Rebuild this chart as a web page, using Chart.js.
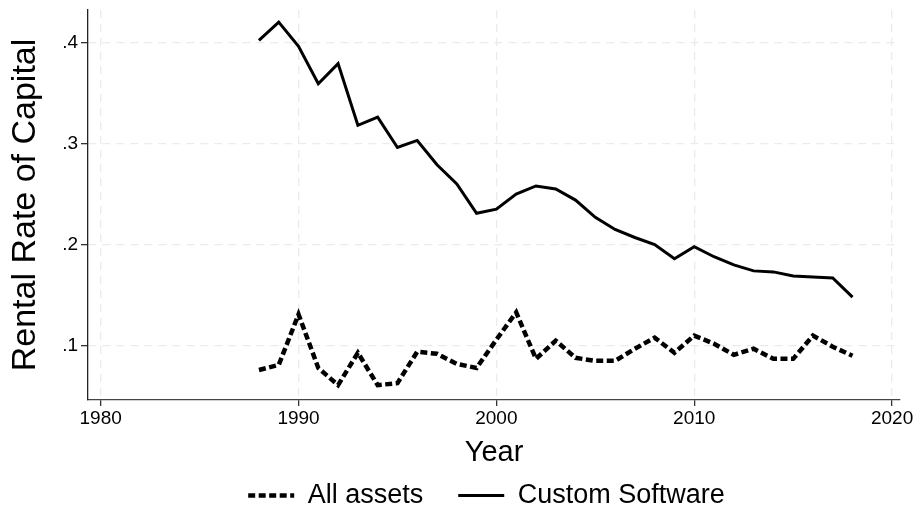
<!DOCTYPE html>
<html lang="en">
<head>
  <meta charset="UTF-8">
  <title>Rental Rate of Capital</title>
  <style>
    html, body {
      margin: 0;
      padding: 0;
      background: #fff;
    }
    #chartWrapper {
      position: relative;
      width: 917px;
      height: 519px;
    }
  </style>
</head>
<body>
  <div id="chartWrapper">
    <canvas id="rentalChart"></canvas>
  </div>

  <script src="https://cdn.jsdelivr.net/npm/chart.js/dist/chart.umd.min.js"></script>
  <script>
    // years 1988..2018
    const years = [
      1988, 1989, 1990, 1991, 1992, 1993, 1994, 1995, 1996, 1997, 1998,
      1999, 2000, 2001, 2002, 2003, 2004, 2005, 2006, 2007, 2008, 2009,
      2010, 2011, 2012, 2013, 2014, 2015, 2016, 2017, 2018
    ];
    const allAssets = [
      0.076, 0.081, 0.131, 0.078, 0.061, 0.093, 0.061, 0.063, 0.094, 0.092, 0.082,
      0.078, 0.106, 0.133, 0.087, 0.105, 0.088, 0.085, 0.085, 0.097, 0.108, 0.093,
      0.110, 0.102, 0.091, 0.097, 0.087, 0.087, 0.110, 0.099, 0.090
    ];
    const customSoftware = [
      0.402, 0.420, 0.396, 0.359, 0.379, 0.318, 0.326, 0.296, 0.303, 0.279, 0.260,
      0.231, 0.235, 0.250, 0.258, 0.255, 0.244, 0.227, 0.215, 0.207, 0.200, 0.186,
      0.198, 0.188, 0.180, 0.174, 0.173, 0.169, 0.168, 0.167, 0.148
    ];
    const xTicks = [1980, 1990, 2000, 2010, 2020];
    const yTicks = [0.1, 0.2, 0.3, 0.4];

    const FONT = '"Liberation Sans", Arial, Helvetica, sans-serif';
    const LEGEND_PAD = 12;   // vertical padding used when the legend is fitted
    const LEGEND_GAP = 35;   // horizontal gap between the two legend entries

    const toPoints = vals => vals.map((v, i) => ({ x: years[i], y: v }));

    // wider gap between entries than the fitted padding, and a small shift right
    const legendSpacing = {
      id: 'legendSpacing',
      afterLayout(chart) {
        const lg = chart.legend;
        lg.options.labels.padding = LEGEND_GAP;
        lg.top -= LEGEND_GAP - LEGEND_PAD;
        lg.left += 11;
        lg.right += 11;
      }
    };

    const ctx = document.getElementById('rentalChart').getContext('2d');
    new Chart(ctx, {
      type: 'line',
      data: {
        datasets: [
          {
            label: 'All assets',
            data: toPoints(allAssets),
            borderColor: '#000',
            borderWidth: 4.5,
            borderDash: [7, 3.5],
            borderCapStyle: 'butt',
            pointRadius: 0,
            tension: 0,
            fill: false
          },
          {
            label: 'Custom Software',
            data: toPoints(customSoftware),
            borderColor: '#000',
            borderWidth: 3,
            pointRadius: 0,
            tension: 0,
            fill: false
          }
        ]
      },
      plugins: [legendSpacing],
      options: {
        responsive: true,
        maintainAspectRatio: false,
        animation: false,
        layout: { padding: { left: 5, right: 17, top: 10, bottom: 0 } },
        plugins: {
          tooltip: { enabled: false },
          legend: {
            position: 'bottom',
            labels: {
              usePointStyle: true,
              pointStyle: 'line',
              pointStyleWidth: 46,
              boxHeight: 20,
              padding: LEGEND_PAD,
              color: '#000',
              font: { family: FONT, size: 27 },
              generateLabels: chart =>
                Chart.defaults.plugins.legend.labels.generateLabels(chart).map(item => ({
                  ...item,
                  lineDash: chart.data.datasets[item.datasetIndex].borderDash || []
                }))
            }
          }
        },
        scales: {
          x: {
            type: 'linear',
            min: 1979.36,
            max: 2020.4,
            afterFit: s => {
              s.height = 70;
              s.paddingLeft = 0;
              s.paddingRight = 0;
            },
            afterBuildTicks: s => { s.ticks = xTicks.map(v => ({ value: v })); },
            ticks: {
              color: '#000',
              padding: 1,
              maxRotation: 0,
              font: { family: FONT, size: 19 },
              callback: v => String(v)
            },
            grid: {
              color: '#ebebeb',
              lineWidth: 1.3,
              tickLength: 6,
              tickColor: '#333',
              tickBorderDash: []
            },
            border: { color: '#444', width: 1.3, dash: [8, 6] },
            title: {
              display: true,
              text: 'Year',
              color: '#000',
              padding: { top: 0, bottom: 0 },
              font: { family: FONT, size: 29 }
            }
          },
          y: {
            type: 'linear',
            min: 0.0463,
            max: 0.432,
            afterFit: s => {
              s.width = 83;
              s.paddingTop = 0;
              s.paddingBottom = 0;
            },
            afterBuildTicks: s => { s.ticks = yTicks.map(v => ({ value: v })); },
            ticks: {
              color: '#000',
              padding: 3,
              font: { family: FONT, size: 19 },
              callback: v => v.toFixed(1).replace(/^0/, '')
            },
            grid: {
              color: '#ebebeb',
              lineWidth: 1.3,
              tickLength: 7,
              tickColor: '#333',
              tickBorderDash: []
            },
            border: { color: '#222', width: 1.3, dash: [8, 6] },
            title: {
              display: true,
              text: 'Rental Rate of Capital',
              color: '#000',
              padding: { top: 0, bottom: 0 },
              font: { family: FONT, size: 34 }
            }
          }
        }
      }
    });
  </script>
</body>
</html>
